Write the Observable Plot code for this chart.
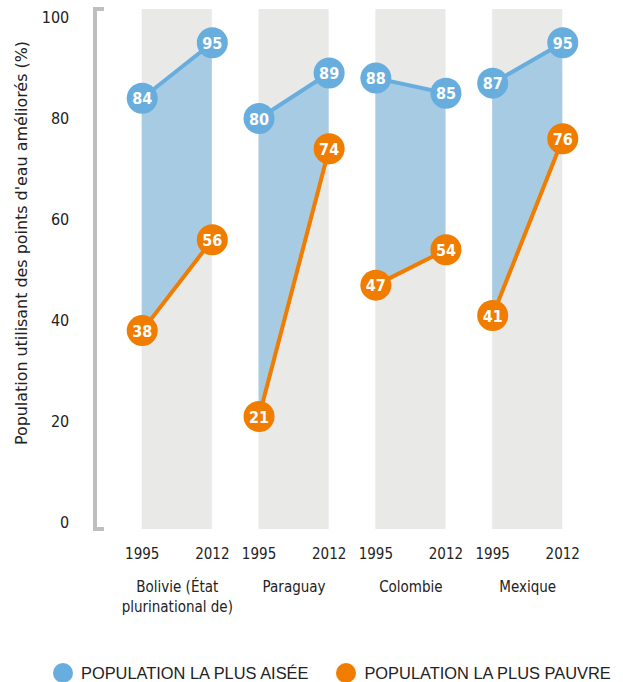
<!DOCTYPE html>
<html>
<head>
<meta charset="utf-8">
<script src="https://cdn.jsdelivr.net/npm/d3@7"></script>
<script src="https://cdn.jsdelivr.net/npm/@observablehq/plot@0.6"></script>
<style>
  body { margin: 0; background: #fff; font-family: "DejaVu Sans Condensed", sans-serif; }
  #chart svg { overflow: visible; display: block; }
  .legend { display: flex; align-items: center; height: 30px; padding-left: 53px; font-family: "Liberation Sans", Arial, sans-serif; font-size: 16.4px; color: #222; white-space: nowrap; }
  .legend .sw { width: 20px; height: 20px; border-radius: 50%; display: inline-block; margin-right: 8px; flex: none; }
  .legend .item { display: flex; align-items: center; margin-right: 28px; }
</style>
</head>
<body>
<div id="chart"></div>
<div class="legend">
  <span class="item"><span class="sw" style="background:#67aede"></span>POPULATION LA PLUS AISÉE</span>
  <span class="item"><span class="sw" style="background:#f07c00"></span>POPULATION LA PLUS PAUVRE</span>
</div>
<script>
const countries = ["Bolivie (État\nplurinational de)", "Paraguay", "Colombie", "Mexique"];
const years = [1995, 2012];
const richest1995 = [84, 80, 88, 87];
const richest2012 = [95, 89, 85, 95];
const poorest1995 = [38, 21, 47, 41];
const poorest2012 = [56, 74, 54, 76];
const yTicks = [0, 20, 40, 60, 80, 100];
const yLabel = "Population utilisant des points d'eau améliorés (%)";

const rows = [];
countries.forEach((c, i) => {
  rows.push({country: c, year: years[0], rich: richest1995[i], poor: poorest1995[i]});
  rows.push({country: c, year: years[1], rich: richest2012[i], poor: poorest2012[i]});
});

const BLUE = "#67aede", AREA = "#a8cbe4", ORANGE = "#f07c00", BAND = "#e9e9e8";
const FONT = "'DejaVu Sans Condensed', sans-serif";

const plot = Plot.plot({
  width: 623,
  height: 658,
  marginLeft: 95,
  marginRight: 14,
  marginTop: 17,
  marginBottom: 136,
  style: {fontFamily: FONT, fontSize: "15px", color: "#222", background: "white"},
  fx: {domain: countries, paddingInner: 0.4, paddingOuter: 0.4, round: false, label: null, axis: null},
  x: {domain: years, axis: null},
  y: {domain: [0, 100], axis: null},
  marks: [
    Plot.rect(countries, {fx: d => d, x1: () => years[0], x2: () => years[1], y1: () => yTicks[0], y2: () => yTicks[yTicks.length - 1], fill: BAND, insetTop: -8, insetBottom: -7}),
    Plot.areaY(rows, {fx: "country", x: "year", y1: "poor", y2: "rich", fill: AREA}),
    Plot.line(rows, {fx: "country", x: "year", y: "rich", stroke: BLUE, strokeWidth: 4}),
    Plot.line(rows, {fx: "country", x: "year", y: "poor", stroke: ORANGE, strokeWidth: 4}),
    Plot.dot(rows, {fx: "country", x: "year", y: "rich", r: 15.5, fill: BLUE}),
    Plot.dot(rows, {fx: "country", x: "year", y: "poor", r: 15.5, fill: ORANGE}),
    Plot.text(rows, {fx: "country", x: "year", y: "rich", text: "rich", fill: "white", fontSize: 16, fontWeight: "bold", dy: 1}),
    Plot.text(rows, {fx: "country", x: "year", y: "poor", text: "poor", fill: "white", fontSize: 16, fontWeight: "bold", dy: 1}),
    Plot.axisX({ticks: years, tickFormat: d => String(d), tickSize: 0, tickPadding: 26, fontSize: 15, label: null}),
    Plot.axisFx({anchor: "bottom", tickSize: 0, tickPadding: 56, fontSize: 15, lineHeight: 1.3, label: null}),
    Plot.axisY({ticks: yTicks, tickSize: 0, tickPadding: 73, fontSize: 16, label: null})
  ]
});
document.getElementById("chart").appendChild(plot);

// bracket-style y axis line and rotated axis title
const svg = d3.select(plot);
const yScale = plot.scale("y");
const yTop = yScale.apply(yTicks[yTicks.length - 1]) - 8;
const yBot = yScale.apply(yTicks[0]) + 7;
const ax = 95;
svg.append("path")
  .attr("d", `M${ax + 9},${yTop} H${ax} V${yBot} H${ax + 9}`)
  .attr("fill", "none").attr("stroke", "#c0bfbb").attr("stroke-width", 4);
svg.append("text")
  .attr("transform", `translate(22,${(yTop + yBot) / 2 - 26}) rotate(-90)`)
  .attr("text-anchor", "middle").attr("dominant-baseline", "middle")
  .attr("font-size", 16.5).attr("fill", "#222").attr("font-family", FONT)
  .attr("textLength", 404).attr("lengthAdjust", "spacingAndGlyphs")
  .text(yLabel);
</script>
</body>
</html>
